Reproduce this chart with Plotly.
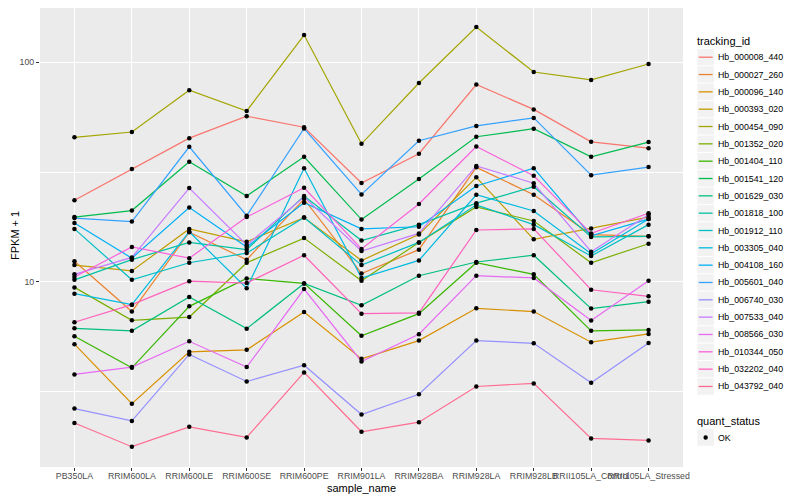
import plotly.graph_objects as go

# ---------------- data ----------------
samples = ["PB350LA", "RRIM600LA", "RRIM600LE", "RRIM600SE", "RRIM600PE",
           "RRIM901LA", "RRIM928BA", "RRIM928LA", "RRIM928LB",
           "RRII105LA_Control", "RRII105LA_Stressed"]

hb_000008_440 = [23.5, 32.6, 45.1, 56.8, 50.6, 28.2, 38.3, 79.2, 61.0, 43.4, 40.6]
hb_000027_260 = [12.4, 7.31, 16.8, 12.6, 23.8, 10.9, 14.0, 33.2, 24.9, 16.4, 16.1]
hb_000096_140 = [5.19, 2.78, 4.79, 4.89, 7.28, 4.45, 5.39, 7.56, 7.31, 5.30, 5.78]
hb_000393_020 = [11.9, 11.2, 17.4, 15.2, 19.6, 12.5, 16.4, 29.9, 15.6, 17.5, 19.7]
hb_000454_090 = [45.5, 48.1, 74.6, 60.0, 133.1, 42.5, 80.5, 144.7, 90.3, 83.1, 98.2]
hb_001352_020 = [9.42, 6.67, 6.90, 12.2, 15.8, 10.1, 15.1, 21.9, 18.9, 12.2, 14.9]
hb_001404_110 = [5.64, 4.05, 7.72, 10.35, 9.82, 5.67, 7.15, 12.2, 10.8, 5.97, 6.03]
hb_001541_120 = [19.7, 21.1, 35.2, 24.6, 37.1, 19.2, 29.4, 45.8, 49.8, 37.1, 43.3]
hb_001629_030 = [6.13, 5.97, 8.52, 6.11, 9.82, 7.80, 10.65, 12.3, 13.2, 7.54, 8.11]
hb_001818_100 = [10.2, 12.6, 15.1, 14.0, 24.6, 15.4, 18.2, 22.8, 27.1, 16.0, 16.1]
hb_001912_110 = [17.4, 10.2, 12.2, 13.5, 19.6, 11.9, 15.1, 22.4, 18.2, 13.1, 18.2]
hb_003305_040 = [8.82, 7.86, 16.9, 9.34, 32.9, 10.4, 12.5, 24.9, 21.0, 13.4, 19.3]
hb_004108_160 = [18.5, 12.8, 21.8, 14.4, 22.9, 17.4, 17.8, 27.3, 32.9, 16.2, 19.3]
hb_005601_040 = [19.5, 18.8, 41.2, 20.0, 49.9, 25.0, 43.9, 51.3, 55.8, 30.6, 33.3]
hb_006740_030 = [2.64, 2.32, 4.66, 3.51, 4.16, 2.48, 3.07, 5.39, 5.24, 3.46, 5.26]
hb_007533_040 = [10.8, 12.9, 26.7, 14.7, 24.3, 13.8, 16.6, 33.7, 28.1, 13.7, 20.2]
hb_008566_030 = [3.78, 4.08, 5.35, 4.08, 9.26, 4.33, 5.76, 10.65, 10.4, 6.65, 10.1]
hb_010344_050 = [10.5, 14.4, 12.8, 19.7, 26.8, 14.1, 22.6, 41.3, 30.4, 16.6, 20.5]
hb_032202_040 = [6.53, 7.86, 10.05, 9.86, 13.2, 7.15, 7.21, 17.2, 17.4, 9.19, 8.58]
hb_043792_040 = [2.27, 1.77, 2.18, 1.95, 3.86, 2.07, 2.29, 3.33, 3.44, 1.93, 1.89]

tracking_ids = ["Hb_000008_440", "Hb_000027_260", "Hb_000096_140", "Hb_000393_020",
                "Hb_000454_090", "Hb_001352_020", "Hb_001404_110", "Hb_001541_120",
                "Hb_001629_030", "Hb_001818_100", "Hb_001912_110", "Hb_003305_040",
                "Hb_004108_160", "Hb_005601_040", "Hb_006740_030", "Hb_007533_040",
                "Hb_008566_030", "Hb_010344_050", "Hb_032202_040", "Hb_043792_040"]
series_values = [hb_000008_440, hb_000027_260, hb_000096_140, hb_000393_020,
                 hb_000454_090, hb_001352_020, hb_001404_110, hb_001541_120,
                 hb_001629_030, hb_001818_100, hb_001912_110, hb_003305_040,
                 hb_004108_160, hb_005601_040, hb_006740_030, hb_007533_040,
                 hb_008566_030, hb_010344_050, hb_032202_040, hb_043792_040]
quant_status = ["OK"]

y_tick_values = [10, 100]
y_tick_labels = ["10", "100"]
y_minor_values = [3.1623, 31.623]

# ---------------- styling ----------------
colors = ["#F8766D", "#EA8331", "#D89000", "#C09B00", "#A3A500", "#7CAE00",
          "#39B600", "#00BB4E", "#00BF7D", "#00C1A3", "#00BFC4", "#00BAE0",
          "#00B0F6", "#35A2FF", "#9590FF", "#C77CFF", "#E76BF3", "#FA62DB",
          "#FF62BC", "#FF6C91"]
FONT = "Liberation Sans, Arial, Helvetica, sans-serif"

# the page body has an 8px margin; the figure is sized / placed to compensate
OFF = 8
W, H = 800 - OFF, 500 - OFF
L, R, T, B = 40 - OFF, 117, 0, 33
PW = W - L - R
PH = H - T - B


def px(x):
    """screen x (reference pixels) -> paper x"""
    return (x - OFF - L) / PW


def py(y):
    """screen y (reference pixels) -> paper y"""
    return (H - B - (y - OFF)) / PH


fig = go.Figure()
for name, vals, col in zip(tracking_ids, series_values, colors):
    fig.add_trace(go.Scatter(x=samples, y=vals, mode="lines", name=name,
                             line=dict(color=col, width=1.2), showlegend=False))

pts_x = [s for vals in series_values for s in samples]
pts_y = [v for vals in series_values for v in vals]
fig.add_trace(go.Scatter(x=pts_x, y=pts_y, mode="markers", name=quant_status[0],
                         marker=dict(color="black", size=4.5), showlegend=False))

annotations = []
shapes = []

# axis titles
annotations.append(dict(text="sample_name", x=px(361.5), y=py(488.5), xref="paper", yref="paper",
                        xanchor="center", yanchor="middle", showarrow=False,
                        font=dict(size=11, color="black", family=FONT)))
annotations.append(dict(text="FPKM + 1", x=px(15), y=py(236), xref="paper", yref="paper",
                        xanchor="center", yanchor="middle", showarrow=False, textangle=-90,
                        borderpad=0,
                        font=dict(size=11, color="black", family=FONT)))

# legend: tracking_id
annotations.append(dict(text="tracking_id", x=px(695), y=py(40.5), xref="paper", yref="paper",
                        xanchor="left", yanchor="middle", showarrow=False,
                        font=dict(size=11, color="black", family=FONT)))
key_left, key_w, key_h, step, first_cy = 697.0, 17.3, 17.3, 17.33, 57.2
for i, (name, col) in enumerate(zip(tracking_ids, colors)):
    cy = first_cy + step * i
    shapes.append(dict(type="rect", xref="paper", yref="paper",
                       x0=px(key_left), x1=px(key_left + key_w),
                       y0=py(cy + key_h / 2), y1=py(cy - key_h / 2),
                       fillcolor="#F2F2F2", line=dict(color="white", width=0.8)))
    shapes.append(dict(type="line", xref="paper", yref="paper",
                       x0=px(key_left + 1.7), x1=px(key_left + key_w - 1.7),
                       y0=py(cy), y1=py(cy), line=dict(color=col, width=1.3)))
    annotations.append(dict(text=name, x=px(715.5), y=py(cy), xref="paper", yref="paper",
                            xanchor="left", yanchor="middle", showarrow=False,
                            font=dict(size=8.8, color="black", family=FONT)))

# legend: quant_status
annotations.append(dict(text="quant_status", x=px(695), y=py(421), xref="paper", yref="paper",
                        xanchor="left", yanchor="middle", showarrow=False,
                        font=dict(size=11, color="black", family=FONT)))
cy = 437.5
shapes.append(dict(type="rect", xref="paper", yref="paper",
                   x0=px(key_left), x1=px(key_left + key_w),
                   y0=py(cy + key_h / 2), y1=py(cy - key_h / 2),
                   fillcolor="#F2F2F2", line=dict(color="white", width=0.8)))
cx = key_left + key_w / 2
shapes.append(dict(type="circle", xref="paper", yref="paper",
                   x0=px(cx - 2.2), x1=px(cx + 2.2), y0=py(cy + 2.2), y1=py(cy - 2.2),
                   fillcolor="black", line=dict(color="black", width=0)))
annotations.append(dict(text=quant_status[0], x=px(715.5), y=py(cy), xref="paper", yref="paper",
                        xanchor="left", yanchor="middle", showarrow=False,
                        font=dict(size=8.8, color="black", family=FONT)))

# y range chosen so that 100 sits at screen y=62.3 and 10 at y=281.7
fig.update_layout(
    width=W, height=H,
    margin=dict(l=L, r=R, t=T, b=B, pad=0),
    paper_bgcolor="white",
    plot_bgcolor="#EBEBEB",
    font=dict(family=FONT, size=9, color="#4D4D4D"),
    showlegend=False,
    annotations=annotations,
    shapes=shapes,
)
fig.update_xaxes(
    type="category", categoryorder="array", categoryarray=samples,
    range=[-0.6, len(samples) - 0.4],
    tickmode="array", tickvals=samples, ticktext=samples, tickangle=0,
    showgrid=True, gridcolor="white", gridwidth=1.4, zeroline=False, showline=False,
    ticks="outside", ticklen=3, tickwidth=1, tickcolor="#333333",
    tickfont=dict(size=8.8, color="#4D4D4D", family=FONT),
    ticklabelstandoff=-3,
    automargin=False,
)
fig.update_yaxes(
    type="log", range=[0.1554, 2.2475],
    tickmode="array", tickvals=y_tick_values, ticktext=y_tick_labels,
    showgrid=True, gridcolor="white", gridwidth=1.4, zeroline=False, showline=False,
    ticks="outside", ticklen=3, tickwidth=1, tickcolor="#333333",
    tickfont=dict(size=8.8, color="#4D4D4D", family=FONT),
    minor=dict(tickmode="array", tickvals=y_minor_values, showgrid=True,
               gridcolor="white", gridwidth=0.7, ticks=""),
    automargin=False,
)

fig.write_html("out.html")
